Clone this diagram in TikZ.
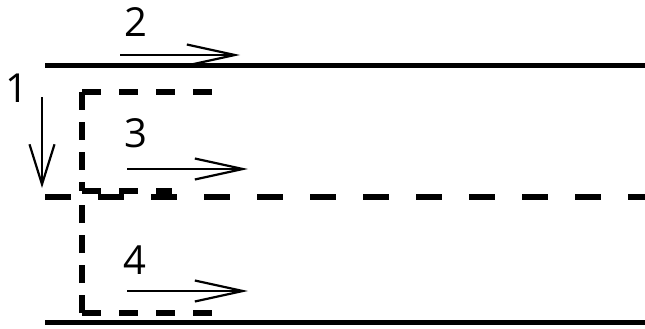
\documentclass[tikz,border=0pt]{standalone}
\usepackage{fontspec}
\setmainfont{Open Sans}
\usetikzlibrary{arrows.meta}
\begin{document}
\begin{tikzpicture}[x=1pt,y=-1pt,
  wall/.style={line width=5pt},
  midline/.style={line width=6pt, dash pattern=on 26pt off 27pt},
  brackh/.style={line width=6pt, dash pattern=on 19pt off 18pt},
  brackv/.style={line width=6pt, dash pattern=on 18pt off 12pt},
  flow/.style={line width=1.8pt, -{Straight Barb[length=48pt,width=21pt,line width=2.2pt]}},
  fall/.style={line width=1.8pt, -{Straight Barb[length=40pt,width=25pt,line width=2.2pt]}},
  lab/.style={font=\fontsize{40}{40}\selectfont, inner sep=0pt}]
\useasboundingbox (0,0) rectangle (645,329);
% walls
\coordinate (t1) at (45,66); \coordinate (t2) at (645,66);
\coordinate (b1) at (45,322); \coordinate (b2) at (645,322);
\coordinate (m1) at (45,197); \coordinate (m2) at (645,197);
\draw[wall] (t1) -- (t2);
\draw[wall] (b1) -- (b2);
\draw[midline] (m1) -- (m2);
% upper dashed bracket
\coordinate (u1) at (215,92); \coordinate (u2) at (82,92);
\coordinate (u3) at (82,191); \coordinate (u4) at (172,191);
\draw[brackh] (u2) -- (u1);
\draw[brackv] (u2) -- (u3);
\draw[brackh] (u3) -- (u4);
% lower dashed bracket
\coordinate (l1) at (82,197); \coordinate (l2) at (82,313);
\coordinate (l3) at (215,313);
\draw[brackv] (l2) -- (l1);
\draw[brackh] (l2) -- (l3);
% arrows
\coordinate (a1s) at (42,97);  \coordinate (a1e) at (42,188);
\coordinate (a2s) at (120,55); \coordinate (a2e) at (240,55);
\coordinate (a3s) at (127,169); \coordinate (a3e) at (248,169);
\coordinate (a4s) at (127,291); \coordinate (a4e) at (248,291);
\draw[fall] (a1s) -- (a1e);
\draw[flow] (a2s) -- (a2e);
\draw[flow] (a3s) -- (a3e);
\draw[flow] (a4s) -- (a4e);
% labels
\node[lab] (n1) at (17,88) {1};
\node[lab] (n2) at (136,22) {2};
\node[lab] (n3) at (136,133) {3};
\node[lab] (n4) at (135,260) {4};
\end{tikzpicture}
\end{document}
